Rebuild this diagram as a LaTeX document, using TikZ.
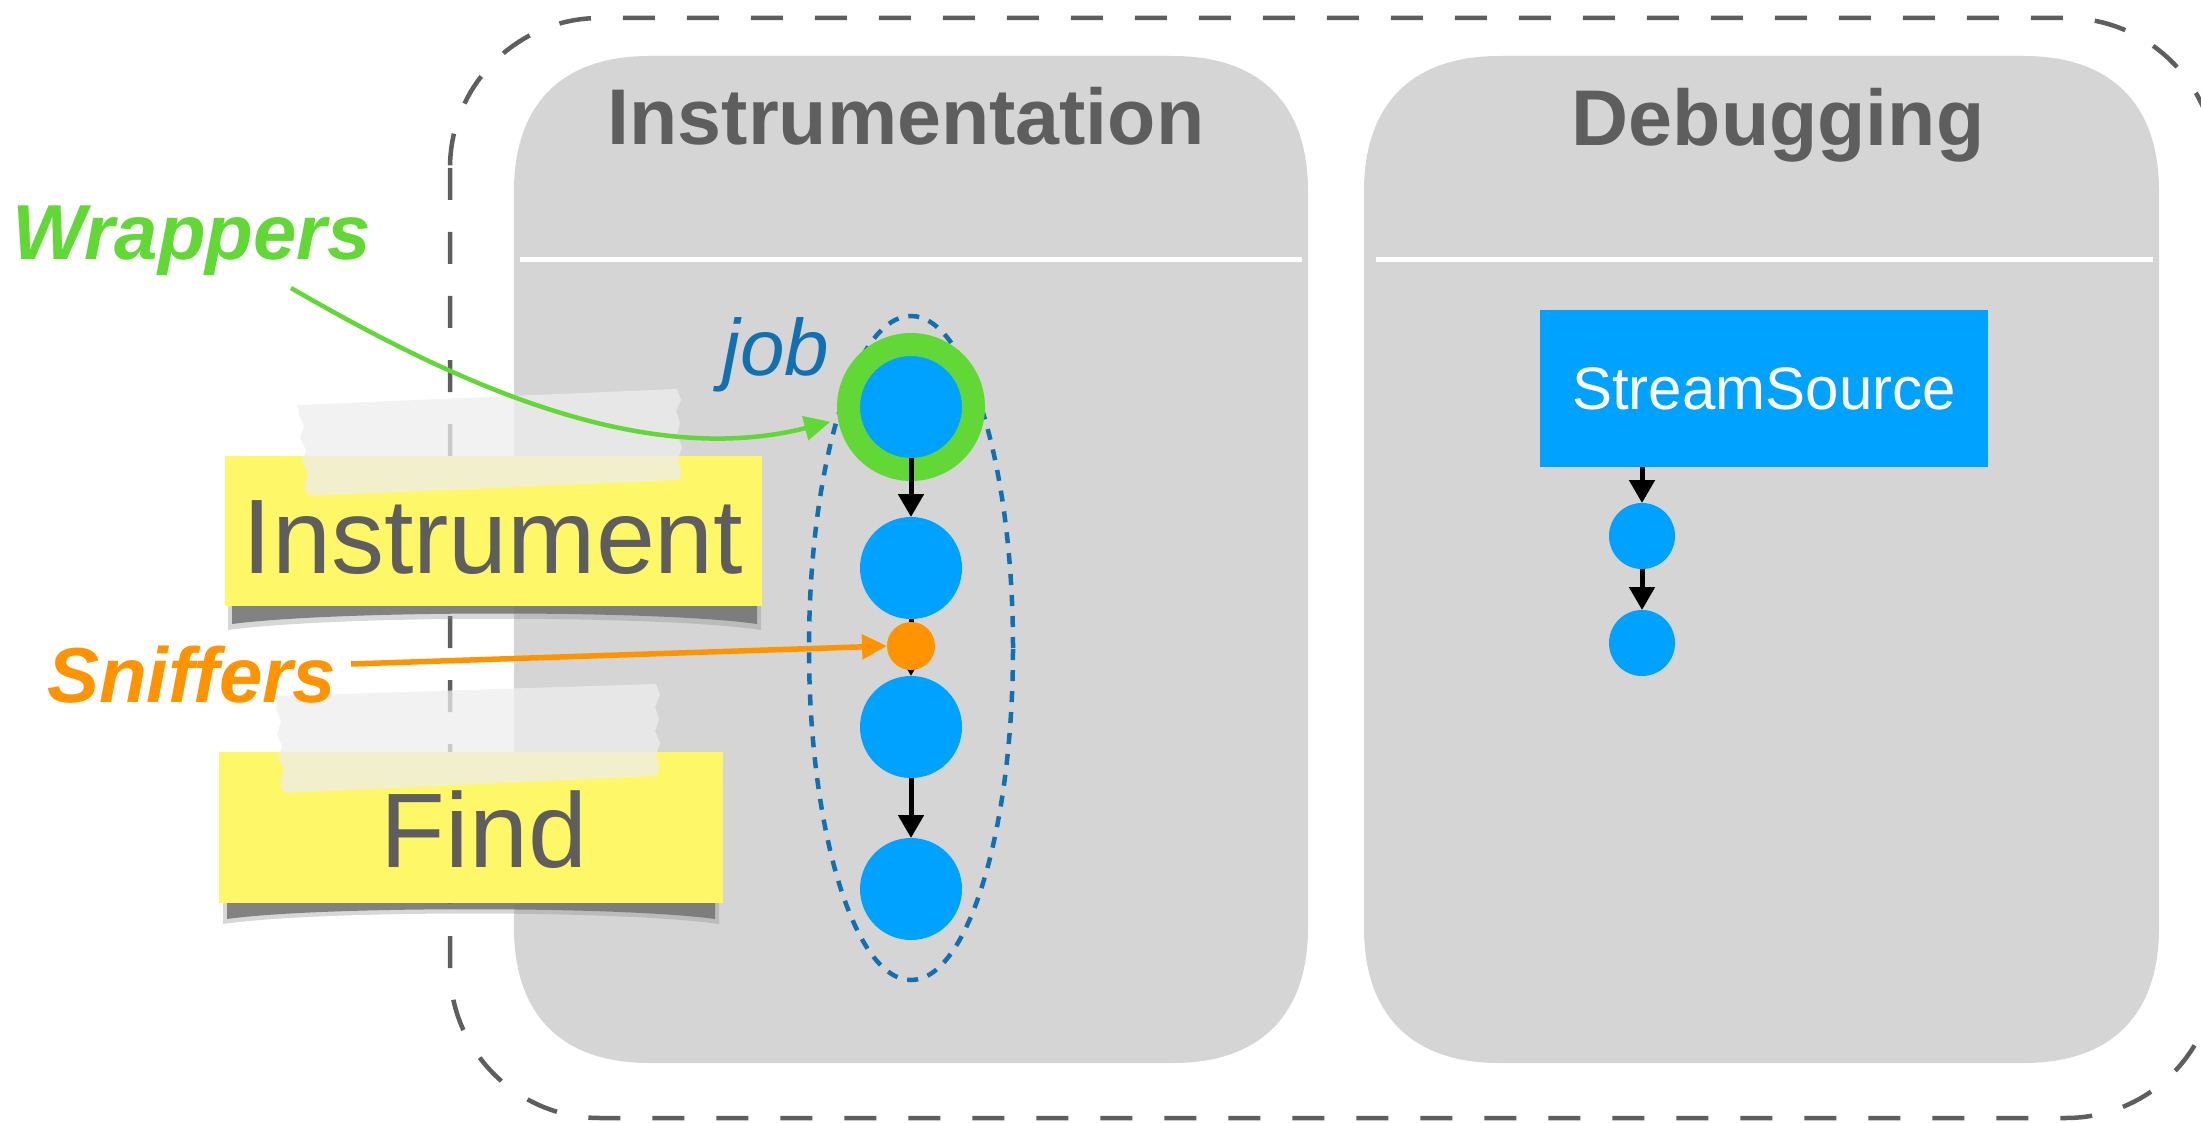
\documentclass[tikz,border=0pt]{standalone}
\usepackage{fontspec}
\setmainfont{Liberation Sans}
\usetikzlibrary{arrows.meta,shapes.geometric}
\definecolor{panelgray}{HTML}{D5D5D5}
\definecolor{titlegray}{HTML}{5E5E5E}
\definecolor{nodeblue}{HTML}{00A2FF}
\definecolor{wrapgreen}{HTML}{62D836}
\definecolor{sniforange}{HTML}{FF9300}
\definecolor{jobblue}{HTML}{1170B2}
\definecolor{noteyellow}{HTML}{FEF868}
\definecolor{tapewhite}{HTML}{EEEEEE}
% squircle panel: left, top, right, bottom
\newcommand\mysquirclepanel[4]{%
  \fill[panelgray] (#1,#2+135) .. controls (#1,#2+48) and (#1+48,#2) .. (#1+135,#2)
    -- (#3-135,#2) .. controls (#3-48,#2) and (#3,#2+48) .. (#3,#2+135)
    -- (#3,#4-135) .. controls (#3,#4-48) and (#3-48,#4) .. (#3-135,#4)
    -- (#1+135,#4) .. controls (#1+48,#4) and (#1,#4-48) .. (#1,#4-135) -- cycle;}
\begin{document}
\begin{tikzpicture}[x=1pt,y=-1pt,
  sepline/.style={white, line width=5pt},
  paneltitle/.style={font=\fontsize{79}{79}\selectfont\bfseries, text=titlegray, anchor=base, inner sep=0pt},
  bnode/.style={circle, fill=nodeblue, inner sep=0pt, outer sep=0pt, minimum size=102pt},
  flow/.style={-{Triangle[length=23pt,width=25pt]}, line width=5pt, black},
  notebox/.style={rectangle, fill=noteyellow, inner sep=0pt, outer sep=0pt},
  notetext/.style={font=\fontsize{106}{106}\selectfont, text=titlegray, anchor=base, inner sep=0pt},
  tape/.style={fill=tapewhite, fill opacity=0.75},
  shadowband/.style={fill=black!55, opacity=0.85},
  shadowsoft/.style={fill=black!45, opacity=0.35},
  calllabel/.style={font=\fontsize{78}{78}\selectfont\bfseries\itshape, anchor=base west, inner sep=0pt},
]
\useasboundingbox (0,0) rectangle (2201,1123);
\clip (0,0) rectangle (2201,1123);

% outer dashed boundary
\draw[titlegray, line width=4.5pt, dash pattern=on 32pt off 32pt, rounded corners=150pt]
  (450,18) rectangle (2216,1118);

% panels
\mysquirclepanel{514}{56}{1308}{1063}
\mysquirclepanel{1364}{56}{2159}{1063}
\draw[sepline] (520,260) -- (1302,260);
\draw[sepline] (1376,260) -- (2153,260);
\node[paneltitle] (titleA) at (906,145) {Instrumentation};
\node[paneltitle] (titleB) at (1778,146) {Debugging};

% job ellipse
\node[ellipse, draw=jobblue, line width=4.5pt, dash pattern=on 11pt off 10pt,
  minimum width=204pt, minimum height=664pt, inner sep=0pt] (jobring) at (911,648) {};
\node[font=\fontsize{80}{80}\selectfont\itshape, text=jobblue, anchor=base, inner sep=0pt] (joblabel) at (776,375) {job};

% instrumentation chain
\node[circle, fill=nodeblue, draw=wrapgreen, line width=23pt, minimum size=125pt, inner sep=0pt] (n1ring) at (911,407) {};
\node[circle, minimum size=102pt, inner sep=0pt, outer sep=0pt] (n1) at (911,407) {};
\node[bnode] (n2) at (911,568) {};
\node[bnode] (n3) at (911,727) {};
\node[bnode] (n4) at (911,889) {};
\draw[flow] (n1.south) -- (n2.north);
\draw[flow] (n2.south) -- (n3.north);
\draw[flow] (n3.south) -- (n4.north);
\node[circle, fill=sniforange, inner sep=0pt, outer sep=0pt, minimum size=48pt] (sniff) at (911,646) {};

% debugging chain
\node[rectangle, fill=nodeblue, minimum width=448pt, minimum height=157pt, inner sep=0pt, outer sep=0pt,
  font=\fontsize{60}{60}\selectfont, text=white] (src) at (1764,388.5) {StreamSource};
\node[bnode, minimum size=66pt] (d1) at (1642,536) {};
\node[bnode, minimum size=66pt] (d2) at (1642,643) {};
\draw[flow] ([xshift=-122pt]src.south) -- (d1.north);
\draw[flow] (d1.south) -- (d2.north);

% sticky notes
\fill[shadowsoft] (228,600) -- (761,600) -- (761,630) .. controls (660,615) and (340,615) .. (228,630) -- cycle;
\fill[shadowband] (232,600) -- (757,600) -- (757,624) .. controls (660,610) and (340,610) .. (232,624) -- cycle;
\node[notebox, minimum width=537pt, minimum height=150pt] (note1) at (493.5,531) {};
\node[notetext] (note1text) at (493,573) {Instrument};
\fill[tape] (298,405) -- (677,389) -- (681,400) -- (676,411) -- (680,423) -- (677,435) -- (682,447)
  -- (678,459) -- (681,470) -- (680,480) -- (309,496) -- (304,486) -- (308,474) -- (302,462)
  -- (306,450) -- (300,438) -- (304,426) -- (299,415) -- cycle;

\fill[shadowsoft] (223,897) -- (719,897) -- (719,924) .. controls (620,910) and (320,910) .. (223,924) -- cycle;
\fill[shadowband] (227,897) -- (715,897) -- (715,919) .. controls (620,906) and (320,906) .. (227,919) -- cycle;
\node[notebox, minimum width=504pt, minimum height=151pt] (note2) at (471,827.5) {};
\node[notetext] (note2text) at (484,867) {Find};
\fill[tape] (277,696) -- (656,684) -- (660,695) -- (655,707) -- (659,719) -- (655,731) -- (660,743)
  -- (656,755) -- (659,766) -- (657,776) -- (284,793) -- (280,782) -- (284,770) -- (278,758)
  -- (282,746) -- (277,734) -- (281,722) -- (276,709) -- cycle;

% callouts
\node[calllabel, text=wrapgreen] (wraplabel) at (12,260) {Wrappers};
\coordinate (wstart) at (291,288);
\draw[wrapgreen, line width=4.5pt, -{Triangle[length=26pt,width=24pt]}, shorten >=8pt]
  (wstart) .. controls (450,380) and (640,470) .. (n1ring.190);

\node[calllabel, text=sniforange] (sniflabel) at (47,702) {Sniffers};
\coordinate (sstart) at (351,664);
\draw[sniforange, line width=5.5pt, -{Triangle[length=25pt,width=24pt]}] (sstart) -- (sniff.west);
\end{tikzpicture}
\end{document}
